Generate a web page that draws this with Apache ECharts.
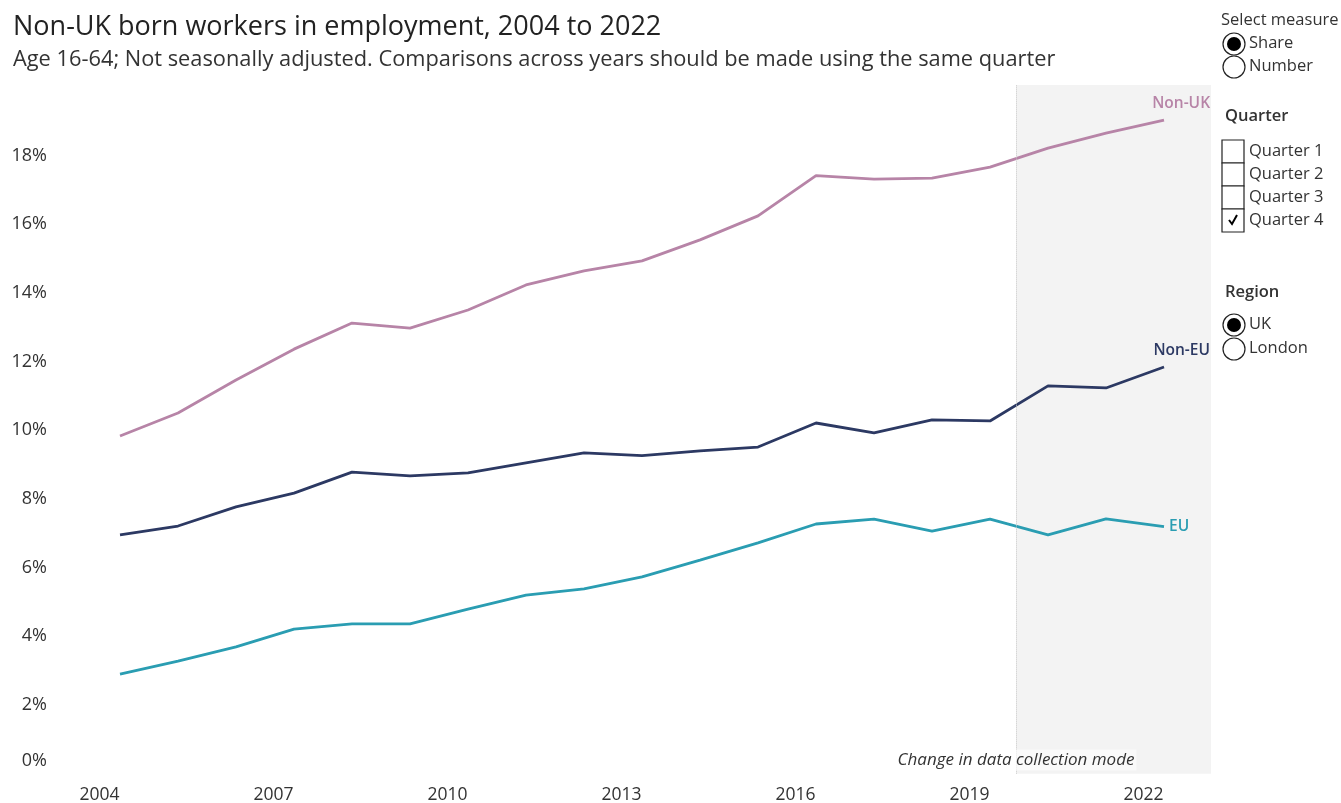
<!DOCTYPE html>
<html>
<head>
<meta charset="utf-8">
<script src="https://cdn.jsdelivr.net/npm/echarts@6/dist/echarts.min.js"></script>
<style>
  html, body { margin: 0; padding: 0; background: #fff; }
  #chart { width: 1341px; height: 803px; }
</style>
</head>
<body>
<div id="chart"></div>
<script>
// data (Q4 of each year, share of workers aged 16-64, %)
const years = [2004, 2005, 2006, 2007, 2008, 2009, 2010, 2011, 2012, 2013,
  2014, 2015, 2016, 2017, 2018, 2019, 2020, 2021, 2022];
const nonUK = [9.83, 10.50, 11.46, 12.36, 13.12, 12.97, 13.50, 14.23, 14.64, 14.93,
  15.54, 16.24, 17.41, 17.31, 17.34, 17.66, 18.21, 18.65, 19.03];
const nonEU = [6.95, 7.21, 7.77, 8.17, 8.78, 8.67, 8.76, 9.05, 9.34, 9.26,
  9.40, 9.51, 10.21, 9.92, 10.30, 10.27, 11.29, 11.23, 11.84];
const eu = [2.90, 3.28, 3.69, 4.21, 4.36, 4.36, 4.79, 5.20, 5.38, 5.73,
  6.22, 6.72, 7.27, 7.41, 7.06, 7.41, 6.95, 7.42, 7.19];
const xTicks = [2004, 2007, 2010, 2013, 2016, 2019, 2022];
const modeChange = 2019.45; // start of shaded period
const xMin = 2003, xMax = 2022.81;

const font = 'Open Sans';
const pair = arr => years.map((y, i) => [y, arr[i]]);

let myChart = echarts.init(document.getElementById('chart'));

// little controls panel on the right (radio buttons / checkboxes)
function radio(y, on) {
  let els = [{
    type: 'circle', shape: { cx: 1234, cy: y, r: 11 },
    style: { fill: '#fff', stroke: '#222', lineWidth: 1.2 }
  }];
  if (on) els.push({
    type: 'circle', shape: { cx: 1234, cy: y, r: 7 },
    style: { fill: '#000' }
  });
  return els;
}
function label(x, y, text, bold) {
  return {
    type: 'text', x: x, y: y,
    style: { text: text, fontFamily: font, fontSize: 16.5, fill: '#333',
      fontWeight: bold ? 600 : 'normal', verticalAlign: 'middle' }
  };
}
let panel = [];
panel.push(label(1221, 20, 'Select measure'));
panel = panel.concat(radio(44, true), radio(67, false));
panel.push(label(1249, 43, 'Share'), label(1249, 66, 'Number'));
panel.push(label(1225, 116, 'Quarter', true));
['Quarter 1', 'Quarter 2', 'Quarter 3', 'Quarter 4'].forEach((q, i) => {
  let top = 140 + i * 23;
  panel.push({
    type: 'rect', shape: { x: 1222, y: top, width: 22, height: 23 },
    style: { fill: '#fff', stroke: '#222', lineWidth: 1.2 }
  });
  panel.push(label(1249, top + 11, q));
});
panel.push({
  type: 'polyline', shape: { points: [[1229, 220], [1232, 224], [1237, 215]] },
  style: { stroke: '#000', lineWidth: 2, fill: null }
});
panel.push(label(1225, 292, 'Region', true));
panel = panel.concat(radio(325, true), radio(349, false));
panel.push(label(1249, 324, 'UK'), label(1249, 348, 'London'));
panel.push({
  type: 'text', x: 1016, y: 760, z: 50,
  style: { text: 'Change in data collection mode', fontFamily: font, fontSize: 17,
    fontStyle: 'italic', fill: '#333', align: 'center', verticalAlign: 'middle',
    backgroundColor: 'rgba(255,255,255,0.6)', padding: [2, 2, 2, 2] }
});

myChart.setOption({
  backgroundColor: '#fff',
  animation: false,
  title: {
    text: 'Non-UK born workers in employment, 2004 to 2022',
    subtext: 'Age 16-64; Not seasonally adjusted. Comparisons across years should be made using the same quarter',
    left: 8, top: 9, itemGap: 8,
    textStyle: { fontFamily: font, fontSize: 27, fontWeight: 'normal', color: '#222' },
    subtextStyle: { fontFamily: font, fontSize: 21.8, color: '#333' }
  },
  grid: { left: 62, right: 130, top: 85, bottom: 29.3, outerBoundsMode: 'none' },
  xAxis: {
    type: 'value', min: xMin, max: xMax,
    axisLine: { show: false }, axisTick: { show: false }, splitLine: { show: false },
    axisLabel: {
      customValues: xTicks, formatter: v => String(v), margin: 12,
      fontFamily: font, fontSize: 17.5, color: '#333', padding: [0, 41, 0, 0]
    }
  },
  yAxis: {
    type: 'value', min: 0, max: 20.05, interval: 2,
    axisLine: { show: false }, axisTick: { show: false }, splitLine: { show: false },
    axisLabel: {
      showMaxLabel: false, margin: 15,
      fontFamily: font, fontSize: 18, color: '#333',
      formatter: v => v === 0 ? '{z|0%}' : (v >= 20 ? '' : v + '%'),
      rich: { z: { fontFamily: font, fontSize: 18, color: '#333', padding: [0, 0, 26, 0] } }
    }
  },
  graphic: panel,
  series: [{
    type: 'line', data: [], z: 1, silent: true,
    markArea: {
      silent: true, itemStyle: { color: '#f3f3f3' },
      data: [[{ xAxis: modeChange }, { xAxis: xMax }]]
    },
    markLine: {
      silent: true, symbol: 'none', label: { show: false },
      lineStyle: { color: '#c8c8c8', type: 'dotted', width: 1 },
      data: [{ xAxis: modeChange }]
    }
  }, {
    name: 'Non-UK', type: 'line', data: pair(nonUK), z: 3,
    symbol: 'none', color: '#b784a7', lineStyle: { width: 2.8 },
    endLabel: {
      show: true, formatter: 'Non-UK', align: 'right', offset: [38, -16],
      fontFamily: font, fontSize: 15.5, fontWeight: 600, color: '#b784a7'
    }
  }, {
    name: 'Non-EU', type: 'line', data: pair(nonEU), z: 3,
    symbol: 'none', color: '#2c3963', lineStyle: { width: 2.8 },
    endLabel: {
      show: true, formatter: 'Non-EU', align: 'right', offset: [38, -16],
      fontFamily: font, fontSize: 15.5, fontWeight: 600, color: '#2c3963'
    }
  }, {
    name: 'EU', type: 'line', data: pair(eu), z: 3,
    symbol: 'none', color: '#2a9db2', lineStyle: { width: 2.8 },
    endLabel: {
      show: true, formatter: 'EU', offset: [-3, 0],
      fontFamily: font, fontSize: 15.5, fontWeight: 600, color: '#2a9db2'
    }
  }]
});
</script>
</body>
</html>
